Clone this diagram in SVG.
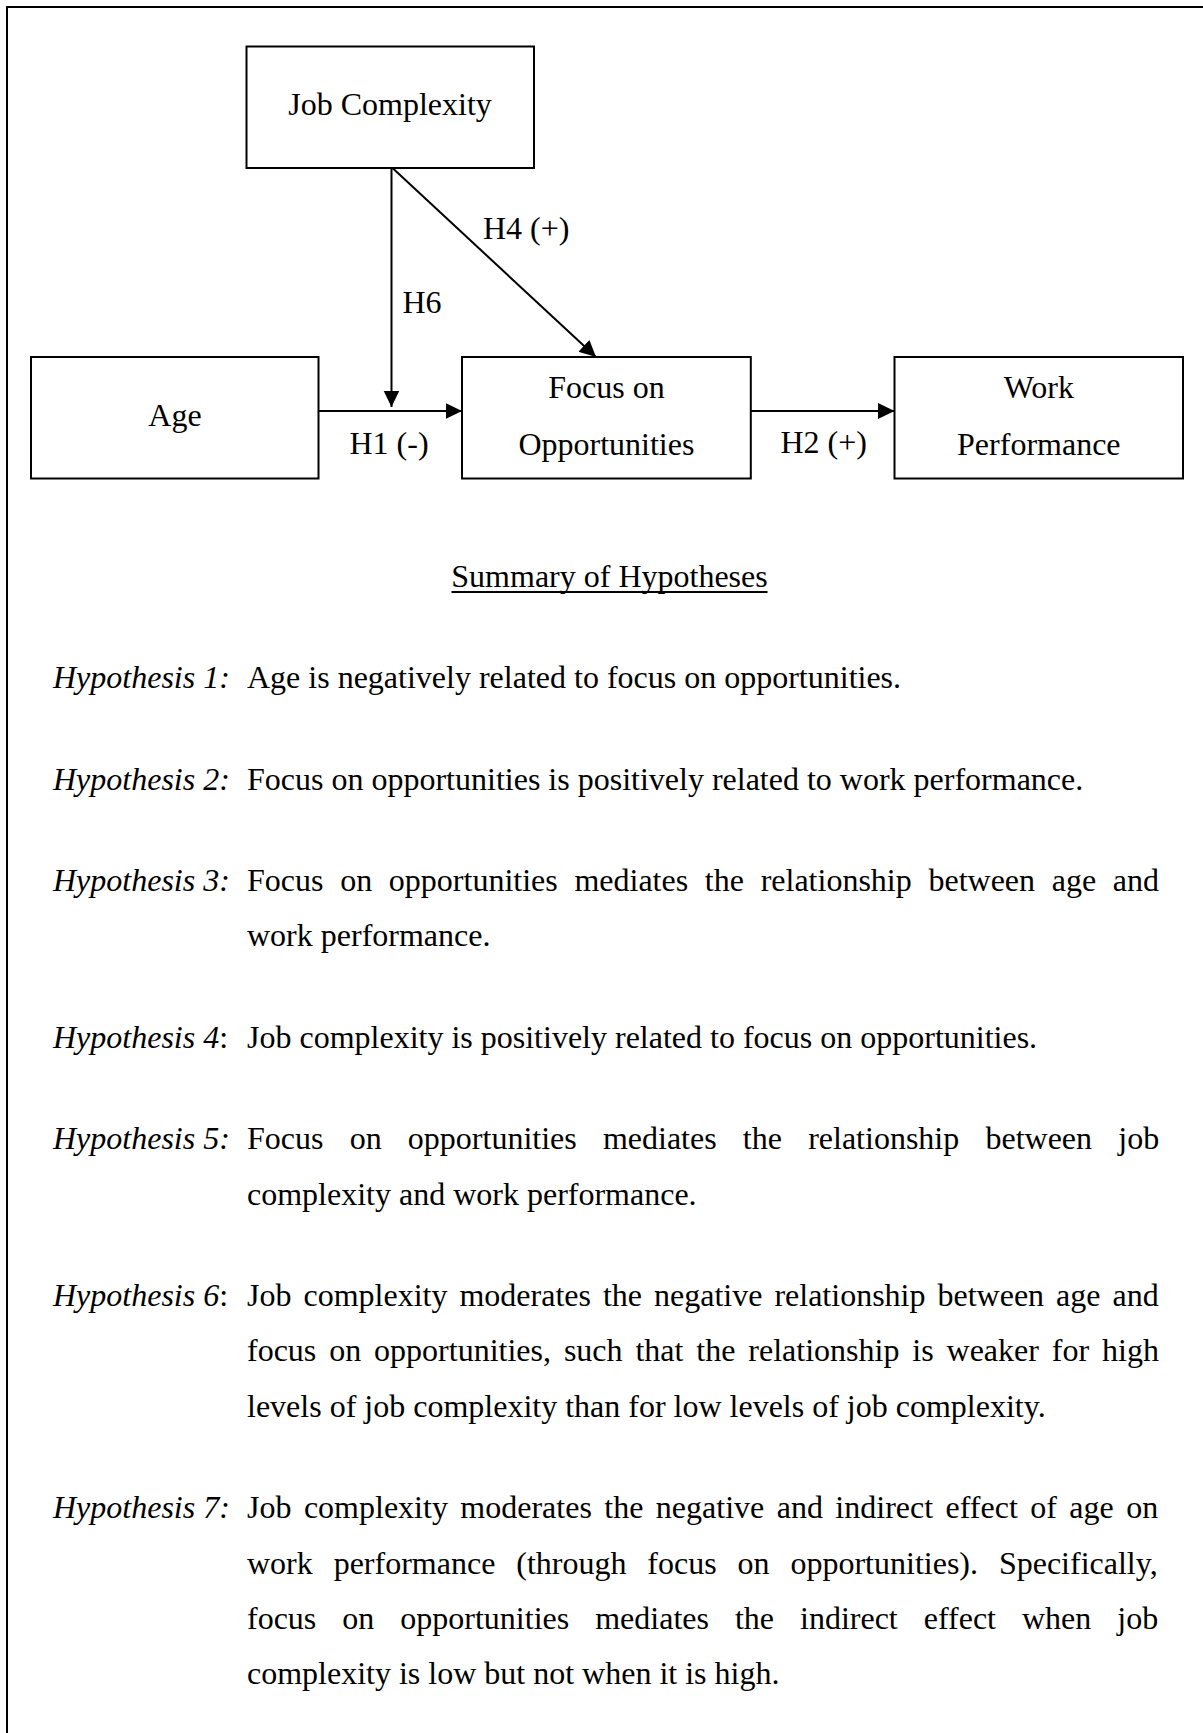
<svg xmlns="http://www.w3.org/2000/svg" width="1203" height="1733" viewBox="0 0 1203 1733">
  <style>
    text { font-family: "Liberation Serif", "Times New Roman", serif; font-size: 32px; fill: #000; }
    .box { fill: #fff; stroke: #000; stroke-width: 2; }
    .conn { stroke: #000; stroke-width: 2; fill: none; }
    .mid { text-anchor: middle; }
    .it { font-style: italic; }
  </style>
  <defs>
    <marker id="arrow" markerUnits="userSpaceOnUse" markerWidth="18" markerHeight="17" refX="16.5" refY="8" orient="auto">
      <path d="M0,0 L16.5,8 L0,16 Z" fill="#000"/>
    </marker>
  </defs>

  <rect width="1203" height="1733" fill="#fff"/>
  <!-- page frame (open to the right and bottom) -->
  <path d="M7,1740 L7,7 L1210,7" fill="none" stroke="#000" stroke-width="2"/>

  <!-- connectors -->
  <g id="connectors">
    <line class="conn" x1="318.5" y1="411" x2="462" y2="411" marker-end="url(#arrow)"/>
    <line class="conn" x1="750.8" y1="411" x2="894.5" y2="411" marker-end="url(#arrow)"/>
    <line class="conn" x1="391.5" y1="168" x2="391.5" y2="407" marker-end="url(#arrow)"/>
    <line class="conn" x1="392.5" y1="168" x2="596" y2="357" marker-end="url(#arrow)"/>
    <text x="483" y="239">H4 (+)</text>
    <text x="402.5" y="313">H6</text>
    <text x="349.5" y="454">H1 (-)</text>
    <text x="780.5" y="453">H2 (+)</text>
  </g>

  <!-- nodes -->
  <g id="job-complexity">
    <rect class="box" x="246.5" y="46.5" width="287.5" height="121.5"/>
    <text class="mid" x="390" y="115">Job Complexity</text>
  </g>
  <g id="age">
    <rect class="box" x="31" y="357" width="287.5" height="121.5"/>
    <text class="mid" x="175" y="426">Age</text>
  </g>
  <g id="focus-on-opportunities">
    <rect class="box" x="462" y="357" width="288.8" height="121.5"/>
    <text class="mid" x="606.4" y="398">Focus on</text>
    <text class="mid" x="606.4" y="455">Opportunities</text>
  </g>
  <g id="work-performance">
    <rect class="box" x="894.5" y="357" width="288.5" height="121.5"/>
    <text class="mid" x="1038.8" y="398">Work</text>
    <text class="mid" x="1038.8" y="455">Performance</text>
  </g>

  <!-- summary of hypotheses -->
  <g id="summary">
    <text class="mid" x="609.5" y="587">Summary of Hypotheses</text>
    <line x1="451.5" y1="592" x2="767.5" y2="592" stroke="#000" stroke-width="2"/>

    <text class="it" x="53" y="688">Hypothesis 1:</text>
    <text x="247" y="688">Age is negatively related to focus on opportunities.</text>

    <text class="it" x="53" y="789.5">Hypothesis 2:</text>
    <text x="247" y="789.5">Focus on opportunities is positively related to work performance.</text>

    <text class="it" x="53" y="891">Hypothesis 3:</text>
    <text x="247" y="891" word-spacing="8.7">Focus on opportunities mediates the relationship between age and</text>
    <text x="247" y="946.3">work performance.</text>

    <text x="53" y="1047.8"><tspan class="it">Hypothesis 4</tspan>:</text>
    <text x="247" y="1047.8">Job complexity is positively related to focus on opportunities.</text>

    <text class="it" x="53" y="1149.3">Hypothesis 5:</text>
    <text x="247" y="1149.3" word-spacing="18.2">Focus on opportunities mediates the relationship between job</text>
    <text x="247" y="1204.6">complexity and work performance.</text>

    <text x="53" y="1306.1"><tspan class="it">Hypothesis 6</tspan>:</text>
    <text x="247" y="1306.1" word-spacing="4">Job complexity moderates the negative relationship between age and</text>
    <text x="247" y="1361.4" word-spacing="4.9">focus on opportunities, such that the relationship is weaker for high</text>
    <text x="247" y="1416.7">levels of job complexity than for low levels of job complexity.</text>

    <text class="it" x="53" y="1518.2">Hypothesis 7:</text>
    <text x="247" y="1518.2" word-spacing="4.46">Job complexity moderates the negative and indirect effect of age on</text>
    <text x="247" y="1573.5" word-spacing="12.9">work performance (through focus on opportunities). Specifically,</text>
    <text x="247" y="1628.8" word-spacing="18">focus on opportunities mediates the indirect effect when job</text>
    <text x="247" y="1684.1">complexity is low but not when it is high.</text>
  </g>
</svg>
